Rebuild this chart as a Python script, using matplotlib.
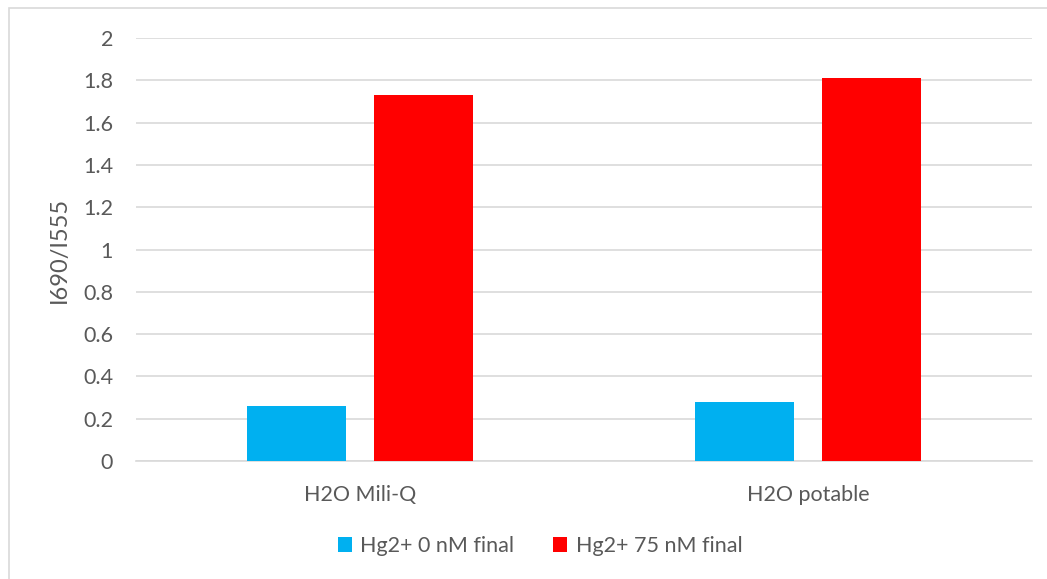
import matplotlib.pyplot as plt
import numpy as np
from matplotlib.patches import Rectangle

plt.rcParams["font.family"] = ["Lato", "DejaVu Sans"]

categories = ["H2O Mili-Q", "H2O potable"]
series_names = ["Hg2+ 0 nM final", "Hg2+ 75 nM final"]
values_0nM = [0.26, 0.28]
values_75nM = [1.73, 1.81]
colors = ["#00b0f0", "#ff0000"]
yticks = [0, 0.2, 0.4, 0.6, 0.8, 1, 1.2, 1.4, 1.6, 1.8, 2]
ytick_labels = ["0", "0.2", "0.4", "0.6", "0.8", "1", "1.2", "1.4", "1.6", "1.8", "2"]

W, H = 1047, 579
fig = plt.figure(figsize=(W / 100, H / 100), dpi=100)
ax = fig.add_axes([136 / W, 1 - 461 / H, (1032 - 136) / W, (461 - 38) / H])

x = np.arange(len(categories))
width = 0.223
offset = 0.1417
ax.bar(x - offset, values_0nM, width, color=colors[0], label=series_names[0], zorder=3)
ax.bar(x + offset, values_75nM, width, color=colors[1], label=series_names[1], zorder=3)

ax.set_xlim(-0.5, len(categories) - 0.5)
ax.set_ylim(0, 2)
ax.set_yticks(yticks)
ax.set_yticklabels(ytick_labels)
ax.set_xticks(x)
ax.set_xticklabels(categories)

txt = "#595959"
fs = 15.5
ax.tick_params(axis="both", length=0, labelsize=fs, colors=txt)
ax.tick_params(axis="y", pad=16.5)
ax.tick_params(axis="x", pad=17)
ax.grid(True, axis="y", color="#d9d9d9", lw=1.2, zorder=0)
for s in ("top", "right", "left"):
    ax.spines[s].set_visible(False)
ax.spines["bottom"].set_color("#d9d9d9")
ax.spines["bottom"].set_linewidth(1.2)
ax.set_ylabel("I690/I555", fontsize=17, color=txt)
ax.yaxis.set_label_coords((70 - 136) / (1032 - 136), 0.5)

ax.legend(loc="center", bbox_to_anchor=((540 - 136) / (1032 - 136), (461 - 546) / (461 - 38)),
          ncol=2, frameon=False, fontsize=fs, labelcolor=txt, handlelength=0.65, handleheight=0.65,
          handletextpad=0.4, columnspacing=1.8)

# outer chart border
fig.add_artist(Rectangle((9 / W, -0.1), 1.2, 1 - 8 / H + 0.1, transform=fig.transFigure,
                         fill=False, edgecolor="#d9d9d9", lw=1.2))

fig.savefig("out.png", dpi=100)
